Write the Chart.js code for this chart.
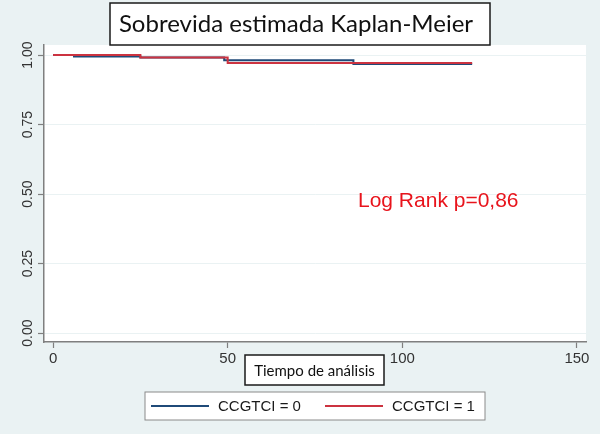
<!DOCTYPE html>
<html>
<head>
<meta charset="utf-8">
<script src="https://cdn.jsdelivr.net/npm/chart.js@4"></script>
<style>
  html, body { margin: 0; padding: 0; background: #eaf2f3; }
  #wrap { width: 600px; height: 434px; }
</style>
</head>
<body>
<div id="wrap"><canvas id="kmChart" width="600" height="434"></canvas></div>
<script>
// survival data
const timeBlue = [0, 6, 25, 49, 86, 120];
const survBlue = [1.0, 0.995, 0.991, 0.981, 0.968, 0.968];
const timeRed = [0, 25, 50, 120];
const survRed = [1.0, 0.991, 0.971, 0.971];
const groupNames = ['CCGTCI = 0', 'CCGTCI = 1'];
const xTicks = [0, 50, 100, 150];
const yTicks = [0, 0.25, 0.5, 0.75, 1];

const titleText = 'Sobrevida estimada Kaplan-Meier';
const xTitleText = 'Tiempo de análisis';
const noteText = 'Log Rank p=0,86';

const toPoints = (times, values) => times.map((t, i) => ({ x: t, y: values[i] }));

// background, boxes, legend and note
const stataDecor = {
    id: 'stataDecor',
    beforeDraw(chart) {
        const { ctx, chartArea } = chart;
        ctx.save();
        ctx.fillStyle = '#eaf2f3';
        ctx.fillRect(0, 0, chart.width, chart.height);
        ctx.fillStyle = '#ffffff';
        ctx.fillRect(chartArea.left, chartArea.top, chartArea.right - chartArea.left, chartArea.bottom - chartArea.top);
        ctx.restore();
    },
    afterDraw(chart) {
        const ctx = chart.ctx;
        ctx.save();

        // title box
        ctx.fillStyle = '#ffffff';
        ctx.fillRect(110, 3, 380, 42);
        ctx.strokeStyle = '#1a1a1a';
        ctx.lineWidth = 1.5;
        ctx.strokeRect(110, 3, 380, 42);
        ctx.fillStyle = '#111111';
        ctx.font = '24px Lato';
        ctx.textAlign = 'center';
        ctx.textBaseline = 'alphabetic';
        ctx.fillText(titleText, 296, 32);

        // x axis title box
        ctx.fillStyle = '#ffffff';
        ctx.fillRect(245, 355, 139, 30);
        ctx.strokeStyle = '#1a1a1a';
        ctx.strokeRect(245, 355, 139, 30);
        ctx.fillStyle = '#111111';
        ctx.font = '15px Lato';
        ctx.fillText(xTitleText, 314.5, 376);

        // legend box
        ctx.fillStyle = '#ffffff';
        ctx.fillRect(145, 392, 340, 28);
        ctx.strokeStyle = '#8a8a8a';
        ctx.lineWidth = 1;
        ctx.strokeRect(145, 392, 340, 28);
        const legendX = [151, 325];
        chart.data.datasets.forEach((ds, i) => {
            ctx.strokeStyle = ds.borderColor;
            ctx.lineWidth = 2;
            ctx.beginPath();
            ctx.moveTo(legendX[i], 406);
            ctx.lineTo(legendX[i] + 58, 406);
            ctx.stroke();
            ctx.fillStyle = '#1a1a1a';
            ctx.font = '15px "Liberation Sans", Arial';
            ctx.textAlign = 'left';
            ctx.textBaseline = 'middle';
            ctx.fillText(ds.label, legendX[i] + 67, 407);
        });

        // log rank note
        ctx.fillStyle = '#e8141c';
        ctx.font = '21px "Liberation Sans", Arial';
        ctx.textAlign = 'left';
        ctx.textBaseline = 'alphabetic';
        ctx.fillText(noteText, 358, 207);

        ctx.restore();
    }
};

new Chart(document.getElementById('kmChart'), {
    type: 'line',
    data: {
        datasets: [{
            label: groupNames[0],
            data: toPoints(timeBlue, survBlue),
            borderColor: '#1f4a78',
            borderWidth: 2,
            stepped: true,
            pointRadius: 0,
            order: 1,
        }, {
            label: groupNames[1],
            data: toPoints(timeRed, survRed),
            borderColor: '#cc3340',
            borderWidth: 2,
            stepped: true,
            pointRadius: 0,
            order: 0,
        }]
    },
    options: {
        responsive: false,
        animation: false,
        layout: {
            padding: { left: 0, right: 14, top: 45, bottom: 60 }
        },
        plugins: {
            legend: { display: false },
            tooltip: { enabled: false }
        },
        scales: {
            x: {
                type: 'linear',
                min: -2.6,
                max: 152.6,
                afterBuildTicks: (scale) => { scale.ticks = xTicks.map(v => ({ value: v })); },
                afterFit: (scale) => { scale.height = 32; },
                border: { color: '#7f7f7f', width: 1.5 },
                grid: { drawOnChartArea: false, tickLength: 6, tickColor: '#7f7f7f', tickWidth: 1.2 },
                ticks: {
                    color: '#333333',
                    padding: 2,
                    maxRotation: 0,
                    font: { family: '"Liberation Sans", Arial', size: 15 }
                }
            },
            y: {
                min: -0.032,
                max: 1.036,
                afterBuildTicks: (scale) => { scale.ticks = yTicks.map(v => ({ value: v })); },
                afterFit: (scale) => { scale.width = 44; },
                border: { color: '#7f7f7f', width: 1.5 },
                grid: { color: '#eaf2f3', lineWidth: 1, tickLength: 6, tickColor: '#7f7f7f', tickWidth: 1.2 },
                ticks: {
                    color: '#333333',
                    padding: -4,
                    minRotation: 90,
                    maxRotation: 90,
                    crossAlign: 'center',
                    callback: (v) => v.toFixed(2),
                    font: { family: '"Liberation Sans", Arial', size: 14 }
                }
            }
        }
    },
    plugins: [stataDecor]
});
</script>
</body>
</html>
